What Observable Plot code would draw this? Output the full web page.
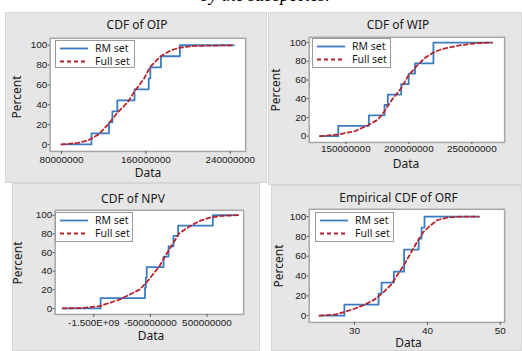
<!DOCTYPE html>
<html><head><meta charset="utf-8">
<script src="https://cdn.jsdelivr.net/npm/d3@7"></script>
<script src="https://cdn.jsdelivr.net/npm/@observablehq/plot@0.6"></script>
<style>
html,body{margin:0;padding:0;background:#fff;}
body{width:522px;height:351px;overflow:hidden;position:relative;}
.panel{position:absolute;background:#e6e6e6;box-sizing:border-box;border:1px solid #d6d6d6;}
.panel svg{position:absolute;left:0;top:0;}
.txt{position:absolute;white-space:nowrap;font-family:"Noto Sans","Open Sans",sans-serif;color:#1a1a1a;transform:translate(-50%,-50%);line-height:1;}
.leg{position:absolute;background:#fff;border:1.5px solid #9a9a9a;box-sizing:border-box;}
</style></head><body>
<script>
// ---- data ----
// CDF of OIP (x in units of 1e6)
const oipRmX = [80, 108.4, 125, 128.2, 132.9, 149.2, 162.7, 164.2, 174.3, 192.2, 243.3];
const oipRmPct = [0, 11.1, 22.2, 33.3, 44.4, 55.6, 66.7, 77.8, 88.9, 100, 100];
const oipFullX = [80, 95.8, 105, 115, 124, 133, 143, 149, 158.6, 164, 174, 183.7, 193, 205.6, 243.3];
const oipFullPct = [0, 1.7, 4, 10, 20, 32, 43, 53, 67, 78, 89, 95, 97.7, 99.3, 100];
const oipTicks = [80e6, 160e6, 240e6];
const oipTickLabels = ["80000000", "160000000", "240000000"];

// CDF of WIP (x in units of 1e6)
const wipRmX = [129.5, 144, 168.3, 180.7, 183.3, 193.9, 199.9, 204.9, 219.5, 266];
const wipRmPct = [0, 11.1, 22.2, 33.3, 44.4, 55.6, 66.7, 77.8, 100, 100];
const wipFullX = [129.5, 144, 157.1, 167.6, 175.5, 180.7, 184.7, 188.6, 193.9, 199.1, 205.7, 212.3, 220.1, 228, 241.1, 254.3, 266];
const wipFullPct = [0, 1.8, 5.3, 11.7, 17.7, 26.5, 35.3, 42.4, 51.2, 63.6, 74.2, 83, 90, 93.6, 97.2, 99.3, 100];
const wipTicks = [150e6, 200e6, 250e6];
const wipTickLabels = ["150000000", "200000000", "250000000"];

// CDF of NPV (x in units of 1e9)
const npvRmX = [-2.05, -1.38, -0.595, -0.58, -0.565, -0.267, -0.179, -0.091, -0.009, 0.605, 1.05];
const npvRmPct = [0, 11.1, 22.2, 33.3, 44.4, 55.6, 66.7, 77.8, 88.9, 100, 100];
const npvFullX = [-2.05, -1.688, -1.395, -1.22, -1.044, -0.868, -0.693, -0.575, -0.46, -0.342, -0.225, -0.108, 0.009, 0.184, 0.36, 0.535, 0.77, 1.05];
const npvFullPct = [0, 0.7, 2.5, 6, 9.6, 14.9, 20.2, 27.3, 36.2, 45, 57.4, 68.8, 80.5, 87.6, 93.6, 97.2, 99.3, 100];
const npvTicks = [-1.5e9, -0.5e9, 0.5e9];
const npvTickLabels = ["-1.500E+09", "-500000000", "500000000"];

// Empirical CDF of ORF
const orfRmX = [25.2, 28.6, 33.3, 33.7, 35.4, 36.8, 38.8, 39.2, 39.6, 47.05];
const orfRmPct = [0, 11.1, 22.2, 33.3, 44.4, 66.7, 77.8, 88.9, 100, 100];
const orfFullX = [25.2, 27.3, 28.6, 30, 31.4, 32.7, 34.1, 35, 35.9, 36.8, 37.7, 38.6, 39.5, 40.5, 41.4, 42.7, 44.6, 47.05];
const orfFullPct = [0, 1, 3.7, 7, 11.1, 16.1, 24.5, 31.2, 41.3, 51.3, 63.1, 74.8, 84.9, 91.6, 96.6, 99, 100, 100];
const orfTicks = [30, 40, 50];
const orfTickLabels = ["30", "40", "50"];

const yTicks = [0, 20, 40, 60, 80, 100];
const seriesNames = ["RM set", "Full set"];
const titles = ["CDF of OIP", "CDF of WIP", "CDF of NPV", "Empirical CDF of ORF"];
const topCaption = "by the subspecies.";

const BLUE = "#3a7cc2", RED = "#b8232b";

function zip(xs, ys, k) { return xs.map((x, i) => ({x: x * k, y: ys[i]})); }

function addText(str, x, y, size, rotate) {
  const d = document.createElement("div");
  d.className = "txt";
  d.textContent = str;
  d.style.left = x + "px"; d.style.top = y + "px"; d.style.fontSize = size + "px";
  if (rotate) d.style.transform = "translate(-50%,-50%) rotate(-90deg)";
  document.body.appendChild(d);
}

function addLegend(bx, by, bw, bh) {
  const d = document.createElement("div");
  d.className = "leg";
  Object.assign(d.style, {left: bx + "px", top: by + "px", width: bw + "px", height: bh + "px"});
  const ns = "http://www.w3.org/2000/svg";
  const s = document.createElementNS(ns, "svg");
  s.setAttribute("width", bw); s.setAttribute("height", bh);
  s.style.position = "absolute"; s.style.left = "-1.5px"; s.style.top = "-1.5px";
  [[BLUE, null, 8.5], [RED, "4,3", 21.5]].forEach(([c, dash, yy], i) => {
    const l = document.createElementNS(ns, "line");
    l.setAttribute("x1", 5); l.setAttribute("x2", 33); l.setAttribute("y1", yy); l.setAttribute("y2", yy);
    l.setAttribute("stroke", c); l.setAttribute("stroke-width", 1.8);
    if (dash) l.setAttribute("stroke-dasharray", dash);
    s.appendChild(l);
    const t = document.createElementNS(ns, "text");
    t.setAttribute("x", 40); t.setAttribute("y", yy + 3.5);
    t.setAttribute("font-family", "Noto Sans, sans-serif"); t.setAttribute("font-size", 10.5);
    t.setAttribute("fill", "#1a1a1a");
    t.textContent = seriesNames[i];
    s.appendChild(t);
  });
  d.appendChild(s);
  document.body.appendChild(d);
}

function panel(cfg) {
  const box = document.createElement("div");
  box.className = "panel";
  Object.assign(box.style, {left: cfg.px + "px", top: cfg.py + "px", width: cfg.pw + "px", height: cfg.ph + "px"});
  const [fx0, fy0, fx1, fy1] = cfg.frame; // absolute frame coords
  const ml = fx0 - cfg.px, mt = fy0 - cfg.py, mr = cfg.px + cfg.pw - fx1, mb = cfg.py + cfg.ph - fy1;
  const fmt = d => cfg.tickLabels[cfg.ticks.indexOf(d)] ?? "";
  const chart = Plot.plot({
    width: cfg.pw, height: cfg.ph,
    marginLeft: ml, marginRight: mr, marginTop: mt, marginBottom: mb,
    style: {background: "transparent", fontFamily: "Liberation Sans, Arial, sans-serif", fontSize: "10px", color: "#1a1a1a", overflow: "visible"},
    x: {domain: cfg.xDomain, label: null},
    y: {domain: cfg.yDomain, label: null},
    marks: [
      Plot.frame({fill: "white", stroke: "#a6a6a6", strokeWidth: 1.5}),
      Plot.axisX({ticks: cfg.ticks, tickFormat: fmt, tickSize: cfg.tickSize ?? 3, tickPadding: cfg.tickPad ?? 2, label: null, stroke: "#555"}),
      Plot.axisY({ticks: yTicks, tickSize: 2, tickPadding: 1, label: null, stroke: "#555"}),
      Plot.line(cfg.rm, {x: "x", y: "y", curve: "step-after", stroke: BLUE, strokeWidth: 1.8}),
      Plot.line(cfg.full, {x: "x", y: "y", stroke: RED, strokeWidth: 1.8, strokeDasharray: "4,3"})
    ]
  });
  chart.style.left = "-1px"; chart.style.top = "-1px";
  box.appendChild(chart);
  document.body.appendChild(box);
  addText(cfg.title, cfg.title_xy[0], cfg.title_xy[1], 12);
  addText("Percent", cfg.pct_xy[0], cfg.pct_xy[1], 12, true);
  addText("Data", cfg.data_xy[0], cfg.data_xy[1], 12);
  addLegend(...cfg.legend);
}

// caption fragment at the very top (clipped by the page edge, as in the reference)
{
  const ns = "http://www.w3.org/2000/svg";
  const s = document.createElementNS(ns, "svg");
  s.setAttribute("width", 522); s.setAttribute("height", 12);
  s.style.position = "absolute"; s.style.left = "0"; s.style.top = "0";
  const t = document.createElementNS(ns, "text");
  t.setAttribute("x", 265); t.setAttribute("y", 0.5); t.setAttribute("text-anchor", "middle");
  t.setAttribute("font-family", "Liberation Serif, serif"); t.setAttribute("font-style", "italic");
  t.setAttribute("font-size", 18); t.textContent = topCaption;
  s.appendChild(t);
  document.body.appendChild(s);
}

panel({px: 5, py: 12, pw: 262, ph: 171, frame: [50, 38, 247, 152],
  xDomain: [69.2e6, 254.6e6], yDomain: [-7, 107], ticks: oipTicks, tickLabels: oipTickLabels,
  rm: zip(oipRmX, oipRmPct, 1e6), full: zip(oipFullX, oipFullPct, 1e6),
  title: titles[0], title_xy: [137, 25], pct_xy: [17, 97], data_xy: [148, 173], legend: [55, 40, 80, 28]});

panel({px: 268, py: 12, pw: 254, ph: 173, frame: [309, 37, 506, 143],
  xDomain: [120.9e6, 276e6], yDomain: [-6.7, 105.6], ticks: wipTicks, tickLabels: wipTickLabels, tickSize: 2, tickPad: 1,
  rm: zip(wipRmX, wipRmPct, 1e6), full: zip(wipFullX, wipFullPct, 1e6),
  title: titles[1], title_xy: [398, 25], pct_xy: [276, 90], data_xy: [406, 164], legend: [312, 38, 79, 30]});

panel({px: 12, py: 183, pw: 248, ph: 168, frame: [55, 210, 245, 315],
  xDomain: [-2.184e9, 1.149e9], yDomain: [-6.4, 105.3], ticks: npvTicks, tickLabels: npvTickLabels,
  rm: zip(npvRmX, npvRmPct, 1e9), full: zip(npvFullX, npvFullPct, 1e9),
  title: titles[2], title_xy: [133, 199], pct_xy: [18, 263], data_xy: [151, 336], legend: [55, 212, 78, 30]});

panel({px: 271, py: 185, pw: 251, ph: 166, frame: [309, 209, 506, 323],
  xDomain: [23.77, 50.6], yDomain: [-6.8, 107.4], ticks: orfTicks, tickLabels: orfTickLabels,
  rm: zip(orfRmX, orfRmPct, 1), full: zip(orfFullX, orfFullPct, 1),
  title: titles[3], title_xy: [398.5, 198], pct_xy: [278.5, 266], data_xy: [408.5, 343], legend: [315, 212, 79, 30]});
</script>
</body></html>
